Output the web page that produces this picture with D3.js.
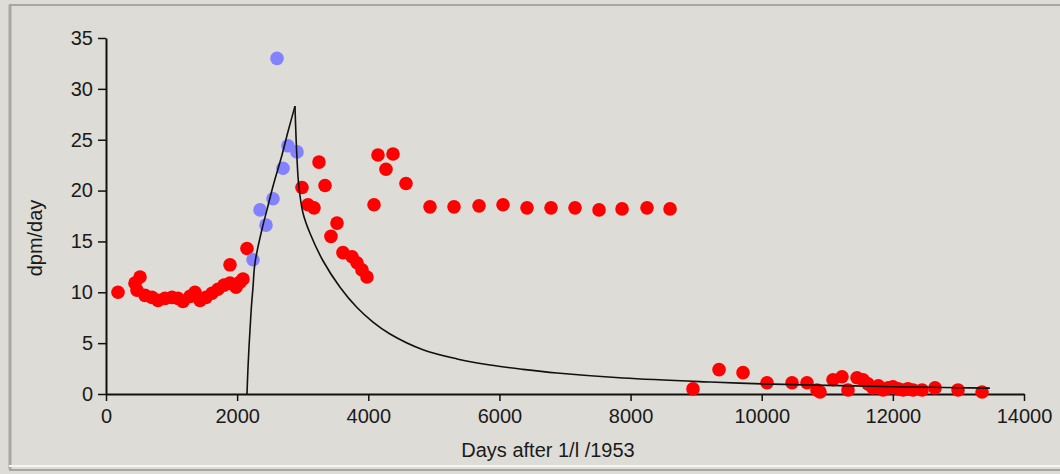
<!DOCTYPE html>
<html>
<head>
<meta charset="utf-8">
<script src="https://cdn.jsdelivr.net/npm/d3@7"></script>
<style>
  html, body { margin: 0; padding: 0; background: #dedcd6; }
  svg { display: block; }
  text { font-family: "Liberation Sans", Arial, sans-serif; fill: #1a1a1a; }
</style>
</head>
<body>
<svg id="chart" width="1060" height="474"></svg>
<script>
// ---- data ----
const xTicks = [0, 2000, 4000, 6000, 8000, 10000, 12000, 14000];
const yTicks = [0, 5, 10, 15, 20, 25, 30, 35];
const xTitle = "Days after 1/l /1953";
const yTitle = "dpm/day";

// red measured series
const redDays = [183, 442, 519, 473, 595, 702, 793, 900, 1007, 1098, 1174, 1281, 1357, 1434, 1525, 1617, 1708, 1800, 1891, 1983, 2044, 2089, 1891, 2150,
  2989, 3081, 3172, 3248, 3340, 3431, 3523, 3614, 3752, 3828, 3904, 3980, 4087, 4148, 4270, 4377, 4575,
  4941, 5307, 5689, 6055, 6421, 6787, 7153, 7519, 7870, 8251, 8602,
  8952, 9349, 9715, 10081, 10462, 10691, 10843, 10889, 11087, 11224, 11316, 11453, 11545, 11620, 11697, 11780, 11850, 11930, 12002, 12080, 12155, 12230, 12307, 12445, 12643, 12994, 13360];
const redValues = [10.0, 10.9, 11.5, 10.2, 9.7, 9.5, 9.2, 9.4, 9.5, 9.4, 9.1, 9.6, 10.0, 9.2, 9.5, 9.9, 10.3, 10.7, 10.9, 10.5, 11.0, 11.3, 12.7, 14.3,
  20.3, 18.6, 18.3, 22.8, 20.5, 15.5, 16.8, 13.9, 13.5, 12.9, 12.2, 11.5, 18.6, 23.5, 22.1, 23.6, 20.7,
  18.4, 18.4, 18.5, 18.6, 18.3, 18.3, 18.3, 18.1, 18.2, 18.3, 18.2,
  0.5, 2.4, 2.1, 1.1, 1.1, 1.1, 0.4, 0.2, 1.4, 1.7, 0.4, 1.6, 1.4, 1.0, 0.6, 0.8, 0.4, 0.6, 0.7, 0.5, 0.4, 0.5, 0.4, 0.4, 0.6, 0.4, 0.2];

// blue measured series
const blueDays = [2242, 2349, 2440, 2547, 2608, 2700, 2775, 2913];
const blueValues = [13.2, 18.1, 16.6, 19.2, 33.0, 22.2, 24.4, 23.8];

// model curve: rising branch and decaying branch (share the peak)
const riseDays = [2150, 2165, 2180, 2196, 2220, 2242, 2272, 2394, 2455, 2550, 2684, 2780, 2882];
const riseValues = [0, 2.5, 4.5, 6.3, 8.8, 10.5, 12.9, 16.6, 18.1, 20.5, 23.5, 25.9, 28.3];
const decayDays = [2882, 2910, 2940, 3004, 3111, 3309, 3569, 3828, 4072, 4331, 4834, 5353, 5856, 6360, 6878, 7885, 9212, 10000, 11000, 12000, 13000, 13480];
const decayValues = [28.3, 23.5, 20.5, 17.8, 15.8, 13.1, 10.5, 8.5, 7.07, 5.9, 4.35, 3.45, 2.85, 2.42, 2.06, 1.57, 1.18, 1.0, 0.85, 0.72, 0.62, 0.58];

// ---- drawing ----
const svg = d3.select("#chart");
const W = 1060, H = 474;

// window frame
svg.append("rect").attr("x", 0).attr("y", 0).attr("width", W).attr("height", H).attr("fill", "#dedcd6");
svg.append("line").attr("x1", 9).attr("x2", W).attr("y1", 5).attr("y2", 5).attr("stroke", "#a8a6a0").attr("stroke-width", 2);
svg.append("line").attr("x1", 10).attr("x2", 10).attr("y1", 5).attr("y2", 469).attr("stroke", "#a8a6a0").attr("stroke-width", 3);
svg.append("line").attr("x1", 9).attr("x2", W).attr("y1", 466).attr("y2", 466).attr("stroke", "#f6f5f2").attr("stroke-width", 2);
svg.append("line").attr("x1", 9).attr("x2", W).attr("y1", 470).attr("y2", 470).attr("stroke", "#a8a6a0").attr("stroke-width", 2);

const x = d3.scaleLinear().domain([0, 14000]).range([106, 1024]);
const y = d3.scaleLinear().domain([0, 35]).range([394, 38]);

const fontSize = "20px";

const xAxis = svg.append("g").attr("transform", `translate(0,${y(0)})`)
  .call(d3.axisBottom(x).tickValues(xTicks).tickFormat(d3.format("d")).tickSize(7).tickSizeOuter(0).tickPadding(8));
const yAxis = svg.append("g").attr("transform", `translate(${x(0)},0)`)
  .call(d3.axisLeft(y).tickValues(yTicks).tickFormat(d3.format("d")).tickSize(8).tickSizeOuter(0).tickPadding(5));

[xAxis, yAxis].forEach(g => {
  g.selectAll("path.domain").attr("stroke", "#111").attr("stroke-width", 2);
  g.selectAll(".tick line").attr("stroke", "#111").attr("stroke-width", 1.5);
  g.selectAll(".tick text").attr("font-size", fontSize).attr("font-family", "Liberation Sans, Arial, sans-serif").attr("fill", "#1a1a1a");
});

// axis titles
svg.append("text").attr("x", 548).attr("y", 457).attr("text-anchor", "middle")
  .attr("font-size", fontSize).text(xTitle);
svg.append("text").attr("transform", `translate(42,238) rotate(-90)`).attr("text-anchor", "middle")
  .attr("font-size", fontSize).text(yTitle);

// points
const red = redDays.map((d, i) => ({ d, v: redValues[i] }));
const blue = blueDays.map((d, i) => ({ d, v: blueValues[i] }));

svg.append("g").selectAll("circle").data(red).join("circle")
  .attr("cx", p => x(p.d)).attr("cy", p => y(p.v)).attr("r", 6.8).attr("fill", "#ff0000");
svg.append("g").selectAll("circle").data(blue).join("circle")
  .attr("cx", p => x(p.d)).attr("cy", p => y(p.v)).attr("r", 6.8).attr("fill", "#8282ff");

// model line
const lineGen = d3.line().x(p => x(p.d)).y(p => y(p.v)).curve(d3.curveCatmullRom.alpha(0.5));
const rise = riseDays.map((d, i) => ({ d, v: riseValues[i] }));
const decay = decayDays.map((d, i) => ({ d, v: decayValues[i] }));
[rise, decay].forEach(seg => {
  svg.append("path").datum(seg)
    .attr("fill", "none").attr("stroke", "#111").attr("stroke-width", 1.6)
    .attr("d", lineGen);
});
</script>
</body>
</html>
